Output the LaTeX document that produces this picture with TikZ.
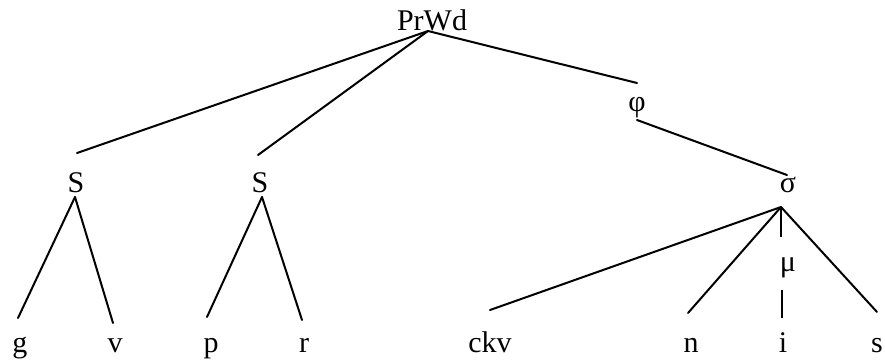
\documentclass[tikz,border=0pt]{standalone}
\usepackage{fontspec}
\setmainfont{Liberation Serif}
\begin{document}
\begin{tikzpicture}[x=1pt,y=-1pt,
  lbl/.style={anchor=base,inner sep=0pt,font=\fontsize{30}{36}\selectfont},
  edge/.style={line width=2pt,line cap=round},
  thinedge/.style={line width=1.2pt}]
\useasboundingbox (0,0) rectangle (885,360);
% labels
\node[lbl] (prwd) at (432,30.5) {PrWd};
\node[lbl] (s1) at (76,192.5) {S};
\node[lbl] (s2) at (260,192.5) {S};
\node[lbl] (phi) at (637,111) {φ};
\node[lbl] (sigma) at (788,192) {σ};
\node[lbl] (mu) at (788,271) {μ};
\node[lbl] (g) at (20,352) {g};
\node[lbl] (v) at (115,352) {v};
\node[lbl] (p) at (211,352) {p};
\node[lbl] (r) at (304,352) {r};
\node[lbl] (ckv) at (490,352) {ckv};
\node[lbl] (n) at (691,352) {n};
\node[lbl] (i) at (783,352) {i};
\node[lbl] (s) at (877,352) {s};
% attachment points
\coordinate (prwdB) at (428,31);
\coordinate (s1T) at (77,153);
\coordinate (s2T) at (258,155);
\coordinate (phiT) at (637,83);
\coordinate (phiB) at (637,120);
\coordinate (sigmaT) at (787,175);
\coordinate (s1B) at (75,197);
\coordinate (s2B) at (262,197);
\coordinate (sigmaB) at (781,207);
\coordinate (muT) at (781,237);
\coordinate (muB) at (782,290);
\coordinate (gT) at (18,318);
\coordinate (vT) at (113,323);
\coordinate (pT) at (207,317);
\coordinate (rT) at (302,320);
\coordinate (ckvT) at (490,310);
\coordinate (nT) at (688,313);
\coordinate (iT) at (782,318);
\coordinate (sT) at (877,312);
% connectors
\draw[edge] (prwdB) -- (s1T);
\draw[edge] (prwdB) -- (s2T);
\draw[edge] (prwdB) -- (phiT);
\draw[edge] (phiB) -- (sigmaT);
\draw[edge] (s1B) -- (gT);
\draw[edge] (s1B) -- (vT);
\draw[edge] (s2B) -- (pT);
\draw[edge] (s2B) -- (rT);
\draw[edge] (sigmaB) -- (ckvT);
\draw[edge] (sigmaB) -- (nT);
\draw[edge] (sigmaB) -- (sT);
\draw[thinedge] (sigmaB) -- (muT);
\draw[thinedge] (muB) -- (iT);
\end{tikzpicture}
\end{document}
